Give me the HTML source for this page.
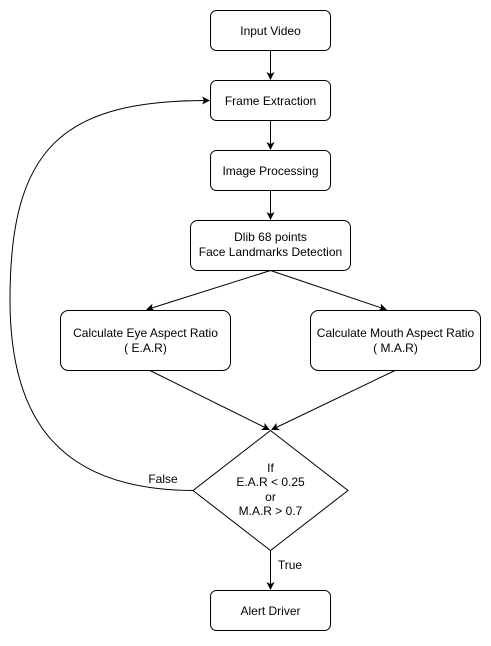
<!DOCTYPE html>
<html><head><style>body{margin:0;background:#fff}</style></head><body>
<svg width="491" height="641" xmlns="http://www.w3.org/2000/svg" font-family="Liberation Sans, sans-serif" font-size="12" fill="none">
<defs><marker id="a" markerWidth="8" markerHeight="8" refX="7" refY="4" orient="auto" markerUnits="userSpaceOnUse"><path d="M0,0 L8,4 L0,8 L2,4Z" fill="#000"/></marker></defs>
<g stroke="#000" stroke-width="1">
<rect x="210.5" y="10.5" width="120" height="40" rx="6"/>
<rect x="210.5" y="80.5" width="120" height="40" rx="6"/>
<rect x="210.5" y="150.5" width="120" height="40" rx="6"/>
<rect x="190.5" y="220.5" width="160" height="50" rx="7"/>
<rect x="60.5" y="310.5" width="170" height="60" rx="8"/>
<rect x="310.5" y="310.5" width="170" height="60" rx="8"/>
<path d="M270.5 430.5 L348 490.5 L270.5 550.5 L193 490.5Z"/>
<rect x="210.5" y="590.5" width="120" height="40" rx="6"/>
<path d="M270.5 50.5V79" marker-end="url(#a)"/>
<path d="M270.5 120.5V149" marker-end="url(#a)"/>
<path d="M270.5 190.5V219" marker-end="url(#a)"/>
<path d="M270.5 270.5L147 309.5" marker-end="url(#a)"/>
<path d="M270.5 270.5L386 309.5" marker-end="url(#a)"/>
<path d="M150 370.5L269 429.5" marker-end="url(#a)"/>
<path d="M395 370.5L272 429.5" marker-end="url(#a)"/>
<path d="M270.5 550.5V589" marker-end="url(#a)"/>
<path d="M193 490.5C60 490 10 420 10 300C10 150 60 100 209 100.5" marker-end="url(#a)"/>
</g>
<g fill="#000" text-anchor="middle">
<text x="270.5" y="35">Input Video</text>
<text x="270.5" y="105">Frame Extraction</text>
<text x="270.5" y="175">Image Processing</text>
<text x="270.5" y="241">Dlib 68 points</text>
<text x="270.5" y="256">Face Landmarks Detection</text>
<text x="145.5" y="337">Calculate Eye Aspect Ratio</text>
<text x="145.5" y="352">( E.A.R)</text>
<text x="395.5" y="337">Calculate Mouth Aspect Ratio</text>
<text x="395.5" y="352">( M.A.R)</text>
<text x="270.5" y="472">If</text>
<text x="270.5" y="486">E.A.R &lt; 0.25</text>
<text x="270.5" y="501">or</text>
<text x="270.5" y="515">M.A.R &gt; 0.7</text>
<text x="163" y="483">False</text>
<text x="290" y="569">True</text>
<text x="270.5" y="615">Alert Driver</text>
</g>
</svg>
</body></html>
